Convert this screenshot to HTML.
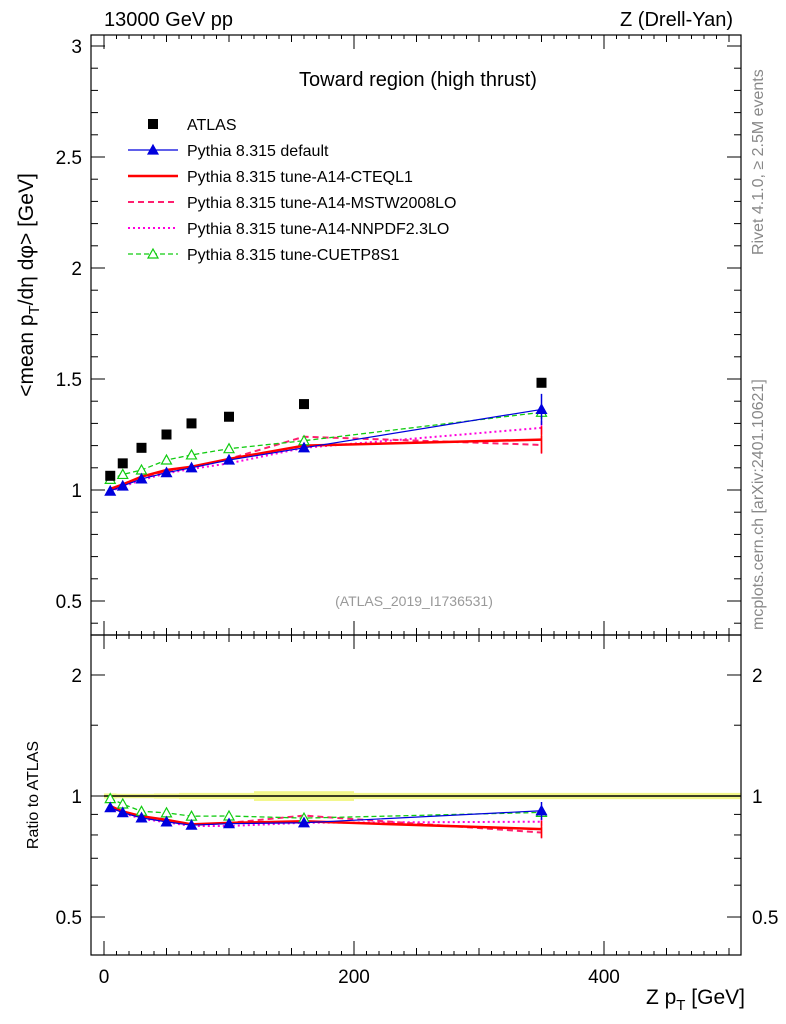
<!DOCTYPE html>
<html><head><meta charset="utf-8"><style>
body{margin:0;background:#fff}
svg{display:block;font-family:"Liberation Sans",sans-serif}
</style></head><body>
<svg id="c" width="786" height="1024" xmlns="http://www.w3.org/2000/svg"></svg>
<script>
const xVals=[5,15,30,50,70,100,160,350];
const binEdges=[0,10,20,40,60,80,120,200,510];
const atlasRelErr=[0.015,0.013,0.013,0.015,0.018,0.018,0.028,0.018];
const atlas=[1.064,1.12,1.19,1.25,1.30,1.33,1.387,1.483];
const pyDefault=[0.995,1.018,1.05,1.078,1.10,1.135,1.19,1.363];
const pyCTEQL1=[1.005,1.025,1.06,1.09,1.105,1.14,1.20,1.227];
const pyMSTW=[1.0,1.02,1.055,1.085,1.10,1.14,1.24,1.203];
const pyNNPDF=[0.995,1.015,1.045,1.075,1.095,1.12,1.19,1.28];
const pyCUETP=[1.048,1.07,1.09,1.135,1.158,1.186,1.222,1.35];
const lastErr=[0.07,0.06,0.04,0.03,0.03];
const xTicks=[0,200,400];
const yTicks=[0.5,1,1.5,2,2.5,3];
const rTicks=[0.5,1,2];

const NS="http://www.w3.org/2000/svg";
const svg=document.getElementById('c');
const L=91,R=741,T=35,M=635,B=955;
const X=v=>104+v*1.25;
const Y=v=>490-(v-1)*222;
const RY=v=>796-Math.log10(v)*402;
function el(tag,attrs,parent,name,inter){const e=document.createElementNS(NS,tag);for(const k in attrs)e.setAttribute(k,attrs[k]);


(parent||svg).appendChild(e);return e;}
function txt(s,x,y,size,anchor,fill,name,extra){const t=el('text',Object.assign({x:x,y:y,'font-size':size,'text-anchor':anchor||'start',fill:fill||'#000'},extra||{}),null,name);t.textContent=s;return t;}

const defs=el('defs',{},null,'defs');
const c1=el('clipPath',{id:'cp1'},defs,'clip-top');el('rect',{x:L,y:T,width:R-L,height:M-T},c1,'clip-rect');
const c2=el('clipPath',{id:'cp2'},defs,'clip-bottom');el('rect',{x:L,y:M,width:R-L,height:B-M},c2,'clip-rect');

const gb=el('g',{'clip-path':'url(#cp2)'},null,'ratio-band');
for(let i=0;i<atlas.length;i++){
 el('rect',{x:X(binEdges[i]),y:RY(1+atlasRelErr[i]),width:X(binEdges[i+1])-X(binEdges[i]),height:RY(1-atlasRelErr[i])-RY(1+atlasRelErr[i]),fill:'#f2f78a'},gb,'band-segment');
}
el('line',{x1:X(binEdges[0]),x2:R,y1:RY(1),y2:RY(1),stroke:'#000','stroke-width':1.5},null,'ratio-reference-line');

el('rect',{x:L,y:T,width:R-L,height:M-T,fill:'none',stroke:'#000','stroke-width':1.2},null,'top-frame');
el('rect',{x:L,y:M,width:R-L,height:B-M,fill:'none',stroke:'#000','stroke-width':1.2},null,'bottom-frame');

for(let v=-0;v<=500;v+=50){const major=v%200===0;const len=major?14:7;
 [[M,-1],[B,-1],[T,1],[M,1]].forEach(([y,d])=>el('line',{x1:X(v),x2:X(v),y1:y,y2:y+d*len,stroke:'#000'},null,'x-tick'));}
for(let v=10;v<=500;v+=10){if(v%50===0)continue;[[M,-1],[B,-1],[T,1],[M,1]].forEach(([y,d])=>el('line',{x1:X(v),x2:X(v),y1:y,y2:y+d*4,stroke:'#000'},null,'x-minor-tick'));}
xTicks.forEach(v=>txt(String(v),X(v),983,19,'middle','#000','x-tick-label'));

for(let v=0.4;v<=3.05;v+=0.1){const vv=Math.round(v*10)/10;const major=Math.abs(vv*2-Math.round(vv*2))<1e-6;const len=major?14:7;
 el('line',{x1:L,x2:L+len,y1:Y(vv),y2:Y(vv),stroke:'#000'},null,'y-tick');el('line',{x1:R,x2:R-len,y1:Y(vv),y2:Y(vv),stroke:'#000'},null,'y-tick');}
yTicks.forEach(v=>txt(String(v),82,Y(v)+7,19,'end','#000','y-tick-label'));
[0.5,0.6,0.7,0.8,0.9,1,1.5,2].forEach(v=>{const major=rTicks.includes(v);const len=major?14:7;
 el('line',{x1:L,x2:L+len,y1:RY(v),y2:RY(v),stroke:'#000'},null,'ratio-tick');el('line',{x1:R,x2:R-len,y1:RY(v),y2:RY(v),stroke:'#000'},null,'ratio-tick');});
rTicks.forEach(v=>{txt(String(v),82,RY(v)+7,19,'end','#000','ratio-tick-label');txt(String(v),752,RY(v)+7,19,'start','#000','ratio-tick-label-right');});

const series=[
 {d:pyNNPDF,c:'#ff00dd',w:2,dash:'2,3',m:'none',name:'nnpdf',e:lastErr[3]},
 {d:pyMSTW,c:'#ff1f6f',w:2,dash:'6,4',m:'none',name:'mstw',e:lastErr[2]},
 {d:pyCTEQL1,c:'#ff0000',w:2.5,dash:'',m:'none',name:'cteql1',e:lastErr[1]},
 {d:pyCUETP,c:'#11cc11',w:1.3,dash:'5,3',m:'open',name:'cuetp8s1',e:lastErr[4]},
 {d:pyDefault,c:'#0000dd',w:1.2,dash:'',m:'filled',name:'default',e:lastErr[0]}
];
function tri(x,y,c,filled,g,name){el('path',{d:`M${x},${y-5}L${x+5},${y+4}L${x-5},${y+4}Z`,fill:filled?c:'#fff',stroke:c,'stroke-width':1.2},g,name);}
function drawPanel(clip,yf,ratio){
 const g=el('g',{'clip-path':`url(#${clip})`},null,ratio?'ratio-series':'main-series');
 series.forEach(s=>{
  const vals=s.d.map((v,i)=>ratio?v/atlas[i]:v);
  const pts=vals.map((v,i)=>X(xVals[i])+','+yf(v)).join(' ');
  el('polyline',{points:pts,fill:'none',stroke:s.c,'stroke-width':s.w,'stroke-dasharray':s.dash},g,'line-'+s.name);
  const n=vals.length-1;const ev=ratio?s.e/atlas[n]:s.e;
  el('line',{x1:X(xVals[n]),x2:X(xVals[n]),y1:yf(vals[n]-ev),y2:yf(vals[n]+ev),stroke:s.c,'stroke-width':1.5},g,'errorbar-'+s.name);
  if(s.m!=='none')vals.forEach((v,i)=>tri(X(xVals[i]),yf(v),s.c,s.m==='filled',g,'marker-'+s.name));
 });
 if(!ratio)atlas.forEach((v,i)=>el('rect',{x:X(xVals[i])-5,y:Y(v)-5,width:10,height:10,fill:'#000'},g,'atlas-point'));
}
drawPanel('cp1',Y,false);
drawPanel('cp2',RY,true);

txt('13000 GeV pp',104,26,20,'start','#000','energy-label');
txt('Z (Drell-Yan)',733,26,20,'end','#000','process-label');
txt('Toward region (high thrust)',418,86,20,'middle','#000','region-title');
txt('(ATLAS_2019_I1736531)',414,606,14,'middle','#999','analysis-id');
txt('Rivet 4.1.0, \u2265 2.5M events',763,255,16,'start','#888','rivet-label',{transform:'rotate(-90 763 255)'});
txt('mcplots.cern.ch [arXiv:2401.10621]',763,630,16,'start','#888','mcplots-label',{transform:'rotate(-90 763 630)'});
const yt=txt('',33,285,21,'middle','#000','y-axis-title',{transform:'rotate(-90 33 285)'});
yt.innerHTML='&lt;mean p<tspan dy="6" font-size="15">T</tspan><tspan dy="-6">/d\u03b7 d\u03c6&gt; [GeV]</tspan>';
txt('Ratio to ATLAS',38,795,16,'middle','#000','ratio-axis-title',{transform:'rotate(-90 38 795)'});
const xt=txt('',745,1004,21,'end','#000','x-axis-title');
xt.innerHTML='Z p<tspan dy="6" font-size="15">T</tspan><tspan dy="-6"> [GeV]</tspan>';

const lg=el('g',{},null,'legend');
const entries=[
 {t:'ATLAS',k:'atlas'},
 {t:'Pythia 8.315 default',k:'default'},
 {t:'Pythia 8.315 tune-A14-CTEQL1',k:'cteql1'},
 {t:'Pythia 8.315 tune-A14-MSTW2008LO',k:'mstw'},
 {t:'Pythia 8.315 tune-A14-NNPDF2.3LO',k:'nnpdf'},
 {t:'Pythia 8.315 tune-CUETP8S1',k:'cuetp8s1'}
];
entries.forEach((e,i)=>{const y=124+i*26;
 const g=el('g',{},lg,'legend-entry-'+e.k);
 if(e.k==='atlas')el('rect',{x:148,y:y-5,width:10,height:10,fill:'#000'},g,'legend-marker');
 else{const s=series.find(q=>q.name===e.k);
  el('line',{x1:128,x2:178,y1:y,y2:y,stroke:s.c,'stroke-width':s.w,'stroke-dasharray':s.dash},g,'legend-line');
  if(s.m!=='none')tri(153,y,s.c,s.m==='filled',g,'legend-marker');}
 const t=el('text',{x:187,y:y+6,'font-size':16},g,'legend-label');t.textContent=e.t;
});
</script>
</body></html>
